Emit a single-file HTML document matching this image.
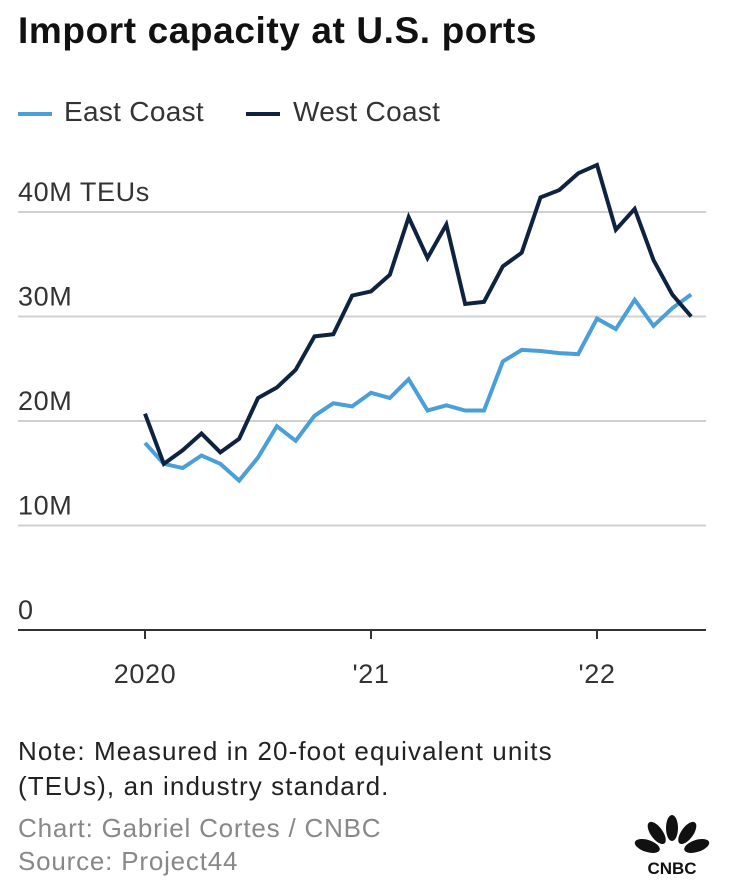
<!DOCTYPE html>
<html><head><meta charset="utf-8"><style>
body{margin:0;width:729px;height:892px;background:#fff;font-family:"Liberation Sans",sans-serif;overflow:hidden;position:relative}
.t{position:absolute;white-space:nowrap}
</style></head><body>
<div class="t" style="left:18px;top:10px;font-size:37px;letter-spacing:0.6px;font-weight:bold;color:#111">Import capacity at U.S. ports</div>
<div>
<div style="position:absolute;left:18px;top:112px;width:34px;height:4px;background:#4a9fd8"></div>
<div class="t" style="left:64px;top:96px;font-size:28px;letter-spacing:0.3px;color:#333">East Coast</div>
<div style="position:absolute;left:246px;top:112px;width:34px;height:4px;background:#0f2340"></div>
<div class="t" style="left:293px;top:96px;font-size:28px;letter-spacing:0.3px;color:#333">West Coast</div>
</div>
<svg id="chart" width="729" height="700" style="position:absolute;left:0;top:0"></svg>
<div class="t" style="left:18px;top:734px;font-size:26px;letter-spacing:1.1px;line-height:35px;color:#222">Note: Measured in 20-foot equivalent units<br>(TEUs), an industry standard.</div>
<div class="t" style="left:18px;top:812px;font-size:26px;letter-spacing:0.8px;line-height:33px;color:#888">Chart: Gabriel Cortes / CNBC<br>Source: Project44</div>
<svg width="80" height="70" style="position:absolute;left:634px;top:812px">
<g fill="#111">
<ellipse cx="38" cy="16" rx="6" ry="13" transform="rotate(-72 38 42)"/>
<ellipse cx="38" cy="16" rx="6" ry="13" transform="rotate(-36 38 42)"/>
<ellipse cx="38" cy="16" rx="6" ry="13"/>
<ellipse cx="38" cy="16" rx="6" ry="13" transform="rotate(36 38 42)"/>
<ellipse cx="38" cy="16" rx="6" ry="13" transform="rotate(72 38 42)"/>
</g>
<rect x="4" y="46" width="72" height="20" fill="#fff"/>
<text x="38" y="62" font-size="17" font-weight="bold" text-anchor="middle" fill="#111" font-family="Liberation Sans">CNBC</text>
</svg>
<script>
const months=[0,1,2,3,4,5,6,7,8,9,10,11,12,13,14,15,16,17,18,19,20,21,22,23,24,25,26,27,28,29];
const west=[20.7,15.9,17.2,18.8,17.0,18.3,22.2,23.2,24.9,28.1,28.3,32.0,32.4,34.0,39.5,35.6,38.8,31.2,31.4,34.8,36.1,41.4,42.1,43.7,44.5,38.3,40.3,35.4,32.1,30.0];
const east=[17.9,15.9,15.5,16.7,15.9,14.3,16.5,19.5,18.1,20.5,21.7,21.4,22.7,22.2,24.0,21.0,21.5,21.0,21.0,25.7,26.8,26.7,26.5,26.4,29.8,28.8,31.6,29.1,30.8,32.1];
const yTicks=[0,10,20,30,40];
const yLabels=["0","10M","20M","30M","40M TEUs"];
const xTicks=[0,12,24];
const xLabels=["2020","'21","'22"];
const NS="http://www.w3.org/2000/svg";
const svg=document.getElementById('chart');
const x=m=>145+m*226/12;
const y=v=>630-v*10.45;
function mk(t,a){const e=document.createElementNS(NS,t);for(const k in a)e.setAttribute(k,a[k]);svg.appendChild(e);return e;}
yTicks.forEach((v,i)=>{
  if(v>0){const g=mk('line',{x1:18,x2:706,y1:y(v),y2:y(v),stroke:'#d0d0d0','stroke-width':2});
  
  }
  const t=mk('text',{x:18,y:y(v)-11,'font-size':27,'letter-spacing':0.6,fill:'#333','font-family':'Liberation Sans'});
  t.textContent=yLabels[i];
  
  
});
const ax=mk('line',{x1:18,x2:706,y1:y(0),y2:y(0),stroke:'#333','stroke-width':2});


xTicks.forEach((m,i)=>{
  const tk=mk('line',{x1:x(m),x2:x(m),y1:y(0),y2:y(0)+9,stroke:'#333','stroke-width':2});
  
  
  const t=mk('text',{x:x(m),y:683,'font-size':27,'letter-spacing':0.6,fill:'#333','text-anchor':'middle','font-family':'Liberation Sans'});
  t.textContent=xLabels[i];
  
  
});
function line(vals,col,name){
  const p=mk('polyline',{points:vals.map((v,i)=>x(months[i])+','+y(v)).join(' '),fill:'none',stroke:col,'stroke-width':4,'stroke-linejoin':'miter'});
  
  
}
line(east,'#4a9fd8','east-coast-line');
line(west,'#0f2340','west-coast-line');
</script>
</body></html>
